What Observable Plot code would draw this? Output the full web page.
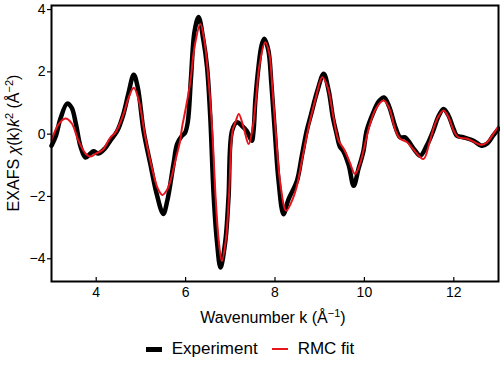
<!DOCTYPE html>
<html>
<head>
<meta charset="utf-8">
<script src="https://cdn.jsdelivr.net/npm/d3@7"></script>
<script src="https://cdn.jsdelivr.net/npm/@observablehq/plot@0.6"></script>
<style>
  body { margin: 0; background: #fff; font-family: "Liberation Sans", Arial, sans-serif; }
  #legend { width: 500px; height: 34px; display: flex; justify-content: center; align-items: center; gap: 10px; font-size: 17px; color: #000; }
  .item { display: flex; align-items: center; gap: 10px; }
  .sw { display: inline-block; width: 16px; }
</style>
</head>
<body>
<div id="chart"></div>
<div id="legend">
  <span class="item"><span class="sw" style="height:5px;background:#000"></span>Experiment</span>
  <span class="item" style="margin-left:4px"><span class="sw" style="height:2px;background:#e8141c"></span>RMC fit</span>
</div>
<script>
const expK = [3.0,3.1,3.2,3.35,3.45,3.55,3.65,3.76,3.87,3.94,4.05,4.2,4.32,4.47,4.6,4.72,4.84,4.93,5.06,5.21,5.35,5.5,5.59,5.73,5.81,5.92,5.99,6.05,6.12,6.2,6.29,6.4,6.48,6.55,6.63,6.70,6.78,6.89,6.96,7.04,7.15,7.27,7.37,7.48,7.52,7.56,7.63,7.7,7.76,7.85,7.92,8.0,8.08,8.19,8.3,8.49,8.6,8.71,8.8,8.95,9.09,9.2,9.3,9.38,9.45,9.53,9.65,9.76,9.87,9.98,10.05,10.2,10.32,10.44,10.55,10.7,10.8,10.91,11.0,11.12,11.25,11.4,11.54,11.65,11.77,11.88,12.0,12.07,12.21,12.44,12.62,12.75,12.88,13.0];
const expChi = [-0.37,-0.05,0.5,0.98,0.85,0.3,-0.4,-0.75,-0.62,-0.55,-0.62,-0.45,-0.2,0.1,0.6,1.3,1.91,1.5,0.1,-0.95,-1.9,-2.56,-2.14,-0.95,-0.32,-0.05,0.05,0.4,1.8,3.3,3.76,3.0,2.15,0.6,-2.03,-3.42,-4.28,-3.42,-2.03,0.11,0.38,0.25,0.1,-0.21,0.11,1.08,2.15,2.85,3.06,2.7,1.6,0.0,-1.5,-2.57,-2.1,-1.5,-0.7,0.11,0.6,1.4,1.94,1.4,0.5,0.0,-0.4,-0.55,-1.0,-1.66,-1.1,-0.53,0.11,0.7,1.05,1.18,0.9,0.2,-0.1,-0.1,-0.25,-0.5,-0.69,-0.35,0.11,0.55,0.81,0.6,0.15,-0.05,-0.1,-0.21,-0.37,-0.3,-0.05,0.17];

const fitK = [3.0,3.15,3.31,3.45,3.6,3.75,3.87,4.0,4.15,4.32,4.43,4.6,4.72,4.84,4.95,5.1,5.25,5.38,5.48,5.58,5.66,5.78,5.88,5.92,6.0,6.1,6.2,6.33,6.42,6.52,6.6,6.67,6.74,6.81,6.9,6.97,7.05,7.12,7.19,7.3,7.41,7.5,7.58,7.65,7.78,7.87,7.94,8.02,8.12,8.25,8.41,8.5,8.62,8.75,8.9,9.06,9.18,9.3,9.42,9.55,9.67,9.79,9.9,10.0,10.1,10.25,10.43,10.55,10.7,10.8,10.95,11.1,11.32,11.45,11.55,11.65,11.77,11.88,12.0,12.1,12.3,12.45,12.62,12.75,12.88,13.0];
const fitChi = [-0.2,0.3,0.5,0.35,-0.2,-0.6,-0.72,-0.62,-0.5,-0.1,0.05,0.6,1.15,1.49,1.1,-0.1,-1.1,-1.75,-1.95,-1.8,-1.5,-0.8,-0.2,0.22,0.8,1.62,2.8,3.54,3.0,1.62,0.0,-2.0,-3.4,-4.07,-3.4,-2.0,0.1,0.4,0.65,0.2,-0.32,0.2,1.2,2.2,2.95,2.6,1.5,0.0,-1.6,-2.46,-2.03,-1.6,-0.7,0.22,1.1,1.83,1.5,0.6,-0.2,-0.5,-0.9,-1.28,-0.95,-0.4,0.2,0.8,1.08,0.85,0.1,-0.15,-0.25,-0.5,-0.8,-0.3,0.2,0.55,0.76,0.55,0.1,-0.1,-0.15,-0.25,-0.35,-0.25,0.0,0.25];

const xTicks = [4, 6, 8, 10, 12];
const yTicks = [-4, -2, 0, 2, 4];

const expData = expK.map((k, i) => ({k, chi: expChi[i]}));
const fitData = fitK.map((k, i) => ({k, chi: fitChi[i]}));

const chart = Plot.plot({
  width: 500,
  height: 332,
  marginLeft: 51,
  marginRight: 2,
  marginTop: 5,
  marginBottom: 51,
  style: {fontFamily: "Liberation Sans, Arial, sans-serif", fontSize: "14px", color: "#000", background: "#fff"},
  x: {domain: [3, 13]},
  y: {domain: [-4.73, 4.13]},
  marks: [
    Plot.line(expData, {x: "k", y: "chi", stroke: "#000", strokeWidth: 4.5, curve: "catmull-rom"}),
    Plot.line(fitData, {x: "k", y: "chi", stroke: "#e8141c", strokeWidth: 2, curve: "catmull-rom"}),
    Plot.frame({stroke: "#000", strokeWidth: 2}),
    Plot.axisX({ticks: xTicks, tickSize: -4, tickPadding: 10, tickFormat: d => String(d), label: null, fontSize: 14, strokeWidth: 1.2}),
    Plot.axisY({ticks: yTicks, tickSize: 4, tickPadding: 2, tickFormat: d => d < 0 ? "\u2212" + Math.abs(d) : String(d), label: null, fontSize: 14, strokeWidth: 1.2})
  ]
});
document.getElementById("chart").appendChild(chart);

const svg = d3.select(chart);
// x label
const xl = svg.append("text")
  .attr("x", 273).attr("y", 323)
  .attr("text-anchor", "middle")
  .attr("font-size", 16)
  .attr("fill", "#000");
xl.append("tspan").text("Wavenumber k (Å");
xl.append("tspan").attr("dy", -6).attr("font-size", 11).text("\u22121");
xl.append("tspan").attr("dy", 6).text(")");

// y label
const yl = svg.append("text")
  .attr("transform", "translate(18.5,143) rotate(-90)")
  .attr("text-anchor", "middle")
  .attr("font-size", 16)
  .attr("fill", "#000");
yl.append("tspan").text("EXAFS ");
yl.append("tspan").attr("font-style", "italic").text("χ");
yl.append("tspan").text("(k)");
yl.append("tspan").attr("font-style", "italic").text("k");
yl.append("tspan").attr("dy", -6).attr("font-size", 11).text("2");
yl.append("tspan").attr("dy", 6).text(" (Å");
yl.append("tspan").attr("dy", -6).attr("font-size", 11).text("\u22122");
yl.append("tspan").attr("dy", 6).text(")");
</script>
</body>
</html>
